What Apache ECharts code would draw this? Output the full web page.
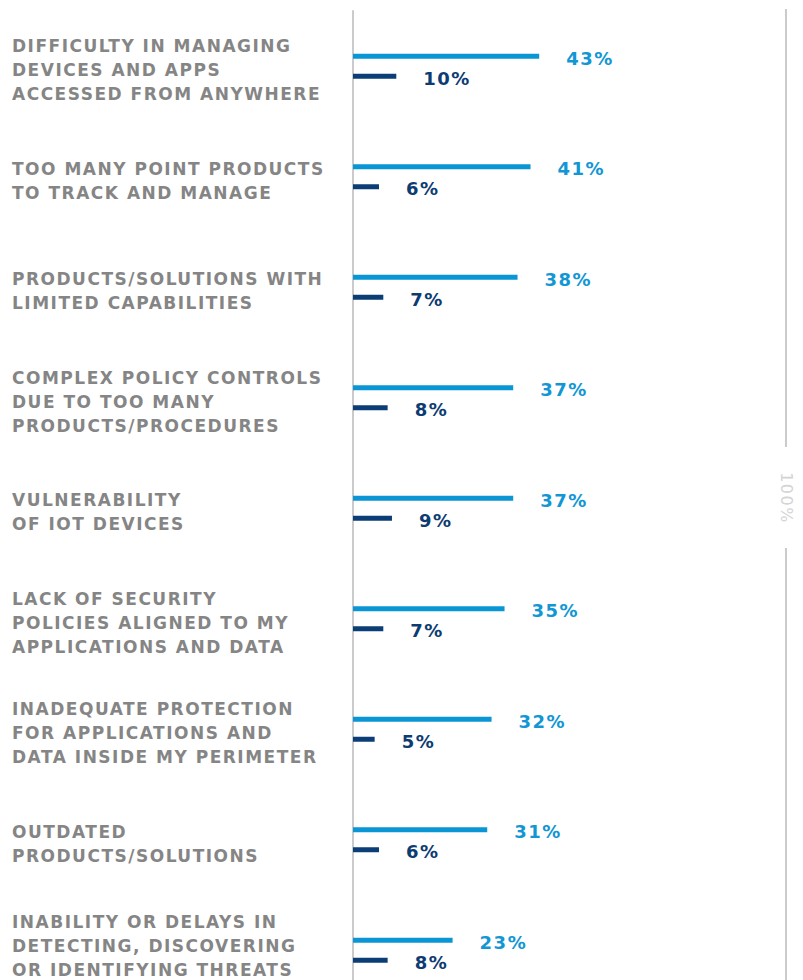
<!DOCTYPE html>
<html>
<head>
<meta charset="utf-8">
<script src="https://cdn.jsdelivr.net/npm/echarts@6/dist/echarts.min.js"></script>
<style>
  html, body { margin: 0; padding: 0; background: #ffffff; }
  #chart { width: 803px; height: 980px; }
  #chart text { letter-spacing: 1.5px; }
</style>
</head>
<body>
<div id="chart"></div>
<script>
const categories = [
  "DIFFICULTY IN MANAGING\nDEVICES AND APPS\nACCESSED FROM ANYWHERE",
  "TOO MANY POINT PRODUCTS\nTO TRACK AND MANAGE",
  "PRODUCTS/SOLUTIONS WITH\nLIMITED CAPABILITIES",
  "COMPLEX POLICY CONTROLS\nDUE TO TOO MANY\nPRODUCTS/PROCEDURES",
  "VULNERABILITY\nOF IOT DEVICES",
  "LACK OF SECURITY\nPOLICIES ALIGNED TO MY\nAPPLICATIONS AND DATA",
  "INADEQUATE PROTECTION\nFOR APPLICATIONS AND\nDATA INSIDE MY PERIMETER",
  "OUTDATED\nPRODUCTS/SOLUTIONS",
  "INABILITY OR DELAYS IN\nDETECTING, DISCOVERING\nOR IDENTIFYING THREATS"
];
const seriesA = [43, 41, 38, 37, 37, 35, 32, 31, 23];
const seriesB = [10, 6, 7, 8, 9, 7, 5, 6, 8];
const maxLabel = "100%";

const LIGHT = "#0a96d5";
const DARK = "#0b3d76";
const FONT = "DejaVu Sans";

const chart = echarts.init(document.getElementById('chart'), null, { renderer: 'svg' });

const option = {
  animation: false,
  backgroundColor: '#ffffff',
  grid: { left: 353, top: 11, width: 433, height: 994.5, containLabel: false, outerBoundsMode: 'none' },
  xAxis: { type: 'value', min: 0, max: 100, show: false },
  yAxis: {
    type: 'category',
    inverse: true,
    data: categories,
    axisLine: { show: true, lineStyle: { color: '#cbcbcb', width: 2 } },
    axisTick: { show: false },
    splitLine: { show: false },
    axisLabel: {
      interval: 0,
      align: 'left',
      margin: 341,
      fontFamily: FONT,
      fontWeight: 'bold',
      fontSize: 17,
      lineHeight: 24,
      color: '#858585',
      formatter: function (v, i) {
        return i === categories.length - 1 ? v + '\n{s| }' : '{s| }\n' + v;
      },
      rich: { s: { fontSize: 2, lineHeight: 8 } }
    }
  },
  series: [
    {
      type: 'bar',
      data: seriesA,
      barWidth: 5,
      barGap: '300%',
      itemStyle: { color: LIGHT },
      label: {
        show: true, position: 'right', distance: 27, offset: [0, 2],
        formatter: '{c}%', fontFamily: FONT, fontWeight: 'bold', fontSize: 18, color: '#1296d4'
      }
    },
    {
      type: 'bar',
      data: seriesB,
      barWidth: 5,
      itemStyle: { color: DARK },
      label: {
        show: true, position: 'right', distance: 27, offset: [0, 2],
        formatter: '{c}%', fontFamily: FONT, fontWeight: 'bold', fontSize: 18, color: '#0d3c72'
      }
    }
  ]
};
chart.setOption(option);

// 100% reference line with gap for its rotated label, x taken from the value scale
const x100 = chart.convertToPixel({ xAxisIndex: 0 }, 100);
const lineColor = '#cbcbcb';
chart.setOption({
  graphic: [
    { type: 'line', shape: { x1: x100, y1: 9, x2: x100, y2: 447 }, style: { stroke: lineColor, lineWidth: 2 }, silent: true },
    { type: 'line', shape: { x1: x100, y1: 548, x2: x100, y2: 985 }, style: { stroke: lineColor, lineWidth: 2 }, silent: true },
    {
      type: 'text', x: x100, y: 498, rotation: -Math.PI / 2,
      style: { text: maxLabel, fontFamily: FONT, fontSize: 16, fill: '#d4d4d4', align: 'center', verticalAlign: 'middle' },
      silent: true
    }
  ]
});
</script>
</body>
</html>
